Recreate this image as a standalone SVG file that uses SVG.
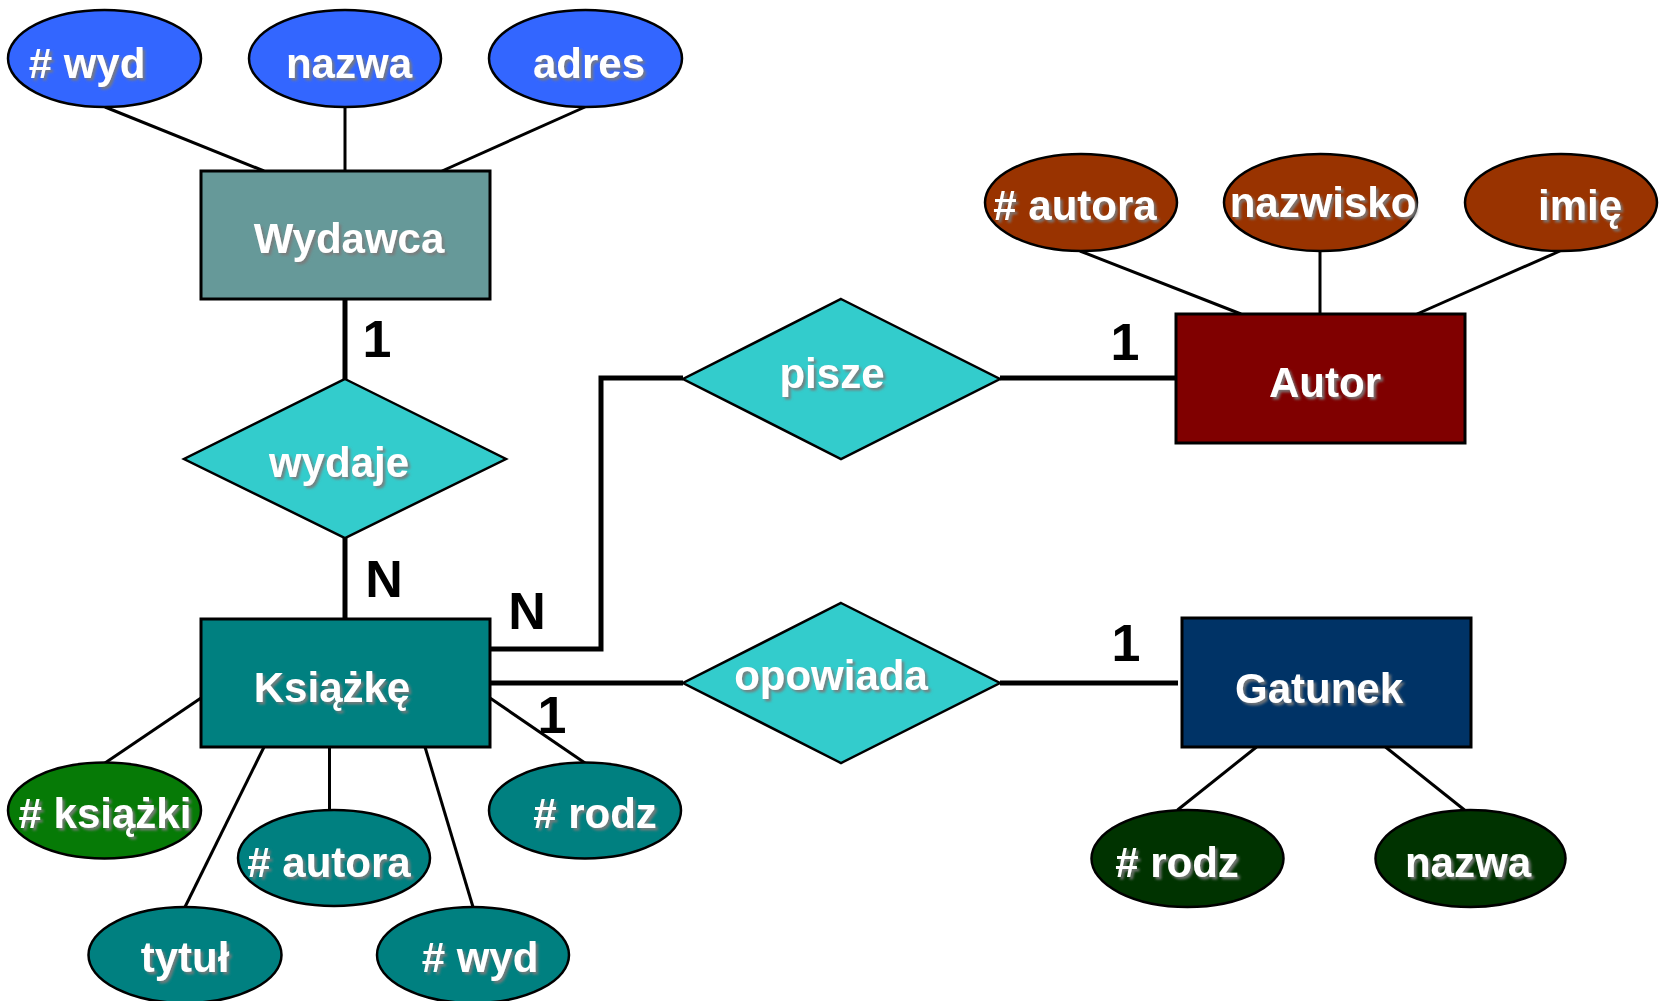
<svg xmlns="http://www.w3.org/2000/svg" width="1659" height="1001" viewBox="0 0 1659 1001">
  <defs>
    <filter id="shadow" x="-10%" y="-20%" width="130%" height="150%">
      <feDropShadow dx="2.5" dy="2.5" stdDeviation="1.2" flood-color="#7a7a7a" flood-opacity="0.9"/>
    </filter>
  </defs>
  <style>
    .lbl { font-family: "Liberation Sans", Arial, sans-serif; font-weight: bold; font-size: 42px; fill: #ffffff; text-anchor: middle; filter: url(#shadow); }
    .card { font-family: "Liberation Sans", Arial, sans-serif; font-weight: bold; font-size: 52px; fill: #000000; text-anchor: middle; }
    .attr { stroke: #000; stroke-width: 3; fill: none; }
    .rel { stroke: #000; stroke-width: 5; fill: none; }
    .shape { stroke: #000; stroke-width: 2.5; }
    .ent { stroke: #000; stroke-width: 3; }
  </style>
  <rect width="1659" height="1001" fill="#ffffff"/>

  <!-- connectors -->
  <g id="connectors">
    <!-- attribute links -->
    <line class="attr" x1="105" y1="107" x2="264" y2="171"/>
    <line class="attr" x1="345" y1="107" x2="345" y2="171"/>
    <line class="attr" x1="585" y1="107" x2="442" y2="171"/>
    <line class="attr" x1="1080" y1="251" x2="1241" y2="314"/>
    <line class="attr" x1="1320" y1="251" x2="1320" y2="314"/>
    <line class="attr" x1="1560" y1="251" x2="1417" y2="314"/>
    <line class="attr" x1="105" y1="763" x2="201" y2="698"/>
    <line class="attr" x1="185" y1="907" x2="264" y2="747"/>
    <line class="attr" x1="329.5" y1="747" x2="329.5" y2="810"/>
    <line class="attr" x1="473" y1="907" x2="425" y2="747"/>
    <line class="attr" x1="585" y1="763" x2="490" y2="698"/>
    <line class="attr" x1="1177.5" y1="810" x2="1256.5" y2="747"/>
    <line class="attr" x1="1464.5" y1="810" x2="1385.5" y2="747"/>
    <!-- relationship links -->
    <path class="rel" d="M345 299 V379"/>
    <path class="rel" d="M345 538 V619"/>
    <path class="rel" d="M490 649 H601 V378 H683"/>
    <path class="rel" d="M1000 378 H1176"/>
    <path class="rel" d="M490 683 H683"/>
    <path class="rel" d="M1000 683 H1178"/>
    <!-- cardinalities -->
    <text class="card" x="377" y="357">1</text>
    <text class="card" x="384" y="597">N</text>
    <text class="card" x="527" y="629">N</text>
    <text class="card" x="552" y="733">1</text>
    <text class="card" x="1125" y="360">1</text>
    <text class="card" x="1126" y="661">1</text>
  </g>

  <!-- Wydawca and its attributes -->
  <g id="wydawca-wyd">
    <ellipse class="shape" cx="104.5" cy="58.5" rx="96.5" ry="48.5" fill="#3366ff"/>
    <text class="lbl" x="87" y="78">#  wyd</text>
  </g>
  <g id="wydawca-nazwa">
    <ellipse class="shape" cx="345" cy="58.5" rx="96" ry="48.5" fill="#3366ff"/>
    <text class="lbl" x="349" y="78">nazwa</text>
  </g>
  <g id="wydawca-adres">
    <ellipse class="shape" cx="585.5" cy="58.5" rx="96.5" ry="48.5" fill="#3366ff"/>
    <text class="lbl" x="589" y="78">adres</text>
  </g>
  <g id="wydawca">
    <rect class="ent" x="201" y="171" width="289" height="128" fill="#669999"/>
    <text class="lbl" x="349" y="253">Wydawca</text>
  </g>

  <!-- Relationships -->
  <g id="wydaje">
    <polygon class="shape" points="345,379 506,459 345,538 184,459" fill="#33cccc"/>
    <text class="lbl" x="339" y="477">wydaje</text>
  </g>
  <g id="pisze">
    <polygon class="shape" points="841,299 1000,379 841,459 683,379" fill="#33cccc"/>
    <text class="lbl" x="832" y="388">pisze</text>
  </g>
  <g id="opowiada">
    <polygon class="shape" points="841,603 1000,683 841,763 683,683" fill="#33cccc"/>
    <text class="lbl" x="831" y="690">opowiada</text>
  </g>

  <!-- Autor and its attributes -->
  <g id="autor-id">
    <ellipse class="shape" cx="1081" cy="202.5" rx="96" ry="48.5" fill="#993300"/>
    <text class="lbl" x="1075" y="220">#  autora</text>
  </g>
  <g id="autor-nazwisko">
    <ellipse class="shape" cx="1320.5" cy="202.5" rx="96.5" ry="48.5" fill="#993300"/>
    <text class="lbl" x="1323" y="217">nazwisko</text>
  </g>
  <g id="autor-imie">
    <ellipse class="shape" cx="1561" cy="202.5" rx="96" ry="48.5" fill="#993300"/>
    <text class="lbl" x="1580" y="220">imię</text>
  </g>
  <g id="autor">
    <rect class="ent" x="1176" y="314" width="289" height="129" fill="#800000"/>
    <text class="lbl" x="1325" y="397">Autor</text>
  </g>

  <!-- Książkę and its attributes -->
  <g id="ksiazke">
    <rect class="ent" x="201" y="619" width="289" height="128" fill="#008080"/>
    <text class="lbl" x="332" y="702">Książkę</text>
  </g>
  <g id="ksiazke-id">
    <ellipse class="shape" cx="104.5" cy="810.5" rx="96.5" ry="48" fill="#067a06"/>
    <text class="lbl" x="105" y="828">#  książki</text>
  </g>
  <g id="ksiazke-tytul">
    <ellipse class="shape" cx="185" cy="955" rx="96.5" ry="48" fill="#008080"/>
    <text class="lbl" x="185" y="972">tytuł</text>
  </g>
  <g id="ksiazke-autora">
    <ellipse class="shape" cx="334" cy="858" rx="96" ry="48" fill="#008080"/>
    <text class="lbl" x="329" y="877">#  autora</text>
  </g>
  <g id="ksiazke-wyd">
    <ellipse class="shape" cx="473" cy="955" rx="96" ry="48" fill="#008080"/>
    <text class="lbl" x="480" y="972">#  wyd</text>
  </g>
  <g id="ksiazke-rodz">
    <ellipse class="shape" cx="585" cy="810.5" rx="96" ry="48" fill="#008080"/>
    <text class="lbl" x="595" y="828">#  rodz</text>
  </g>

  <!-- Gatunek and its attributes -->
  <g id="gatunek">
    <rect class="ent" x="1182" y="618" width="289" height="129" fill="#003366"/>
    <text class="lbl" x="1319" y="703">Gatunek</text>
  </g>
  <g id="gatunek-rodz">
    <ellipse class="shape" cx="1187.5" cy="858.5" rx="96" ry="48.5" fill="#003300"/>
    <text class="lbl" x="1177" y="877">#  rodz</text>
  </g>
  <g id="gatunek-nazwa">
    <ellipse class="shape" cx="1470.5" cy="858.5" rx="95" ry="48.5" fill="#003300"/>
    <text class="lbl" x="1468" y="877">nazwa</text>
  </g>
</svg>
